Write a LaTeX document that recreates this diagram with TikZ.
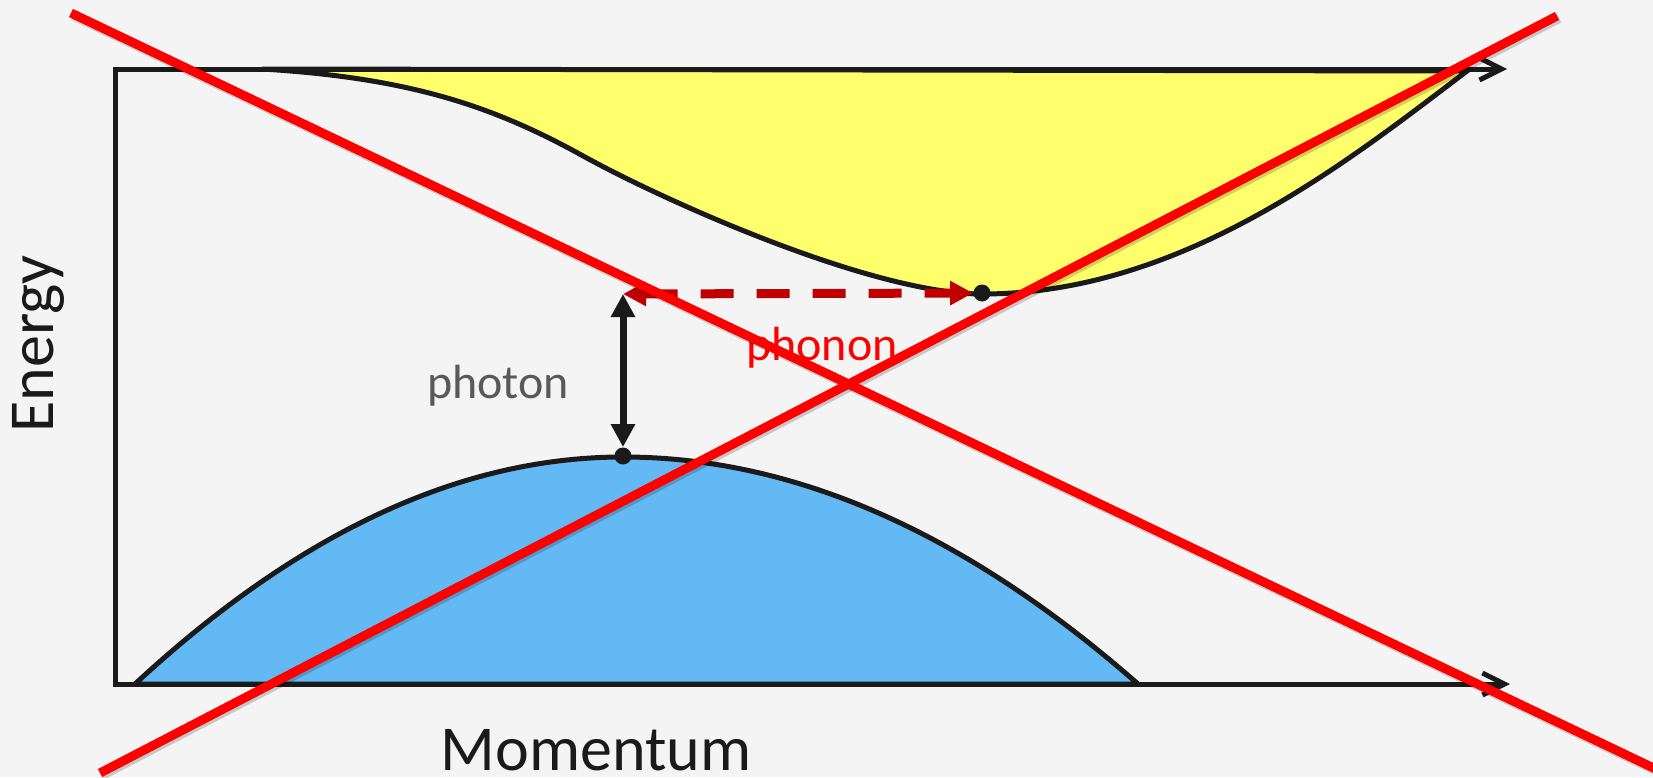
\documentclass[tikz,border=0pt]{standalone}
\usepackage{fontspec}
\setmainfont{Carlito}
\usepackage{xcolor}
\usetikzlibrary{arrows.meta}
\definecolor{bggray}{HTML}{F4F4F4}
\definecolor{bandyellow}{HTML}{FFFF6B}
\definecolor{bandblue}{HTML}{63B9F3}
\definecolor{darkred}{HTML}{C00000}
\definecolor{inkblack}{HTML}{1A1A1A}
\definecolor{labelgray}{HTML}{595959}

\begin{document}
\begin{tikzpicture}[x=0.5pt,y=-0.5pt,
  band/.style={draw=inkblack,line width=2.5pt},
  dot/.style={circle,fill=inkblack,inner sep=0pt,minimum size=8.5pt},
  cross/.style={draw=red,line width=4.5pt},
  crossshadow/.style={draw=black,opacity=0.18,line width=5pt},
  every node/.style={font=\fontsize{24}{28}\selectfont}]
\useasboundingbox[fill=bggray] (0,0) rectangle (1653,777);
% conduction band
\filldraw[band,fill=bandyellow] (262,69) .. controls (412,78) and (495,107) .. (585,157)
  .. controls (665,201) and (872,294) .. (982,294)
  .. controls (1182,294) and (1347,162) .. (1467,71) -- cycle;
% valence band
\filldraw[band,fill=bandblue] (135,684) .. controls (298,533) and (460,457) .. (623,457)
  .. controls (795,457) and (966,533) .. (1138,684) -- cycle;
% axes
\coordinate (corner) at (115,69);
\coordinate (origin) at (115,684);
\coordinate (topend) at (1507,69);
\coordinate (kend) at (1510,684);
\draw[inkblack,line width=2.5pt,line join=miter,
  {Straight Barb[length=11pt,width=11pt]}-{Straight Barb[length=11pt,width=11pt]}]
  (topend) -- (corner) -- (origin) -- (kend);
% transitions
\node[dot] (vbm) at (623,456) {};
\node[dot] (cbm) at (982,293) {};
\coordinate (gaptop) at (623,294);
\draw[inkblack,line width=3.5pt,
  {Triangle[length=11.5pt,width=11.5pt]}-{Triangle[length=11.5pt,width=11.5pt]}] (gaptop) -- (vbm);
\draw[darkred,line width=4.5pt,dash pattern=on 16.5pt off 11.5pt,
  {Triangle[length=11.5pt,width=11.5pt]}-{Triangle[length=11.5pt,width=11.5pt]}] (gaptop) -- (cbm);
\node[text=labelgray,anchor=base] (photonlbl) at (498,398) {photon};
\node[text=red,anchor=base] (phononlbl) at (822,360) {phonon};
% axis labels
\node[rotate=90,anchor=base,inner sep=0pt,text=inkblack,font=\fontsize{32}{36}\selectfont] (energylbl) at (53,344) {Energy};
\node[anchor=base,inner sep=0pt,text depth=0pt,text=inkblack,font=\fontsize{32}{36}\selectfont] (momentumlbl) at (596,770) {Momentum};
% crossed out
\coordinate (xa) at (71,13);
\coordinate (xb) at (1662,772);
\coordinate (xc) at (100,773);
\coordinate (xd) at (1557,16);
\draw[crossshadow] ([shift={(2,2)}]xa) -- ([shift={(2,2)}]xb);
\draw[crossshadow] ([shift={(2,2)}]xc) -- ([shift={(2,2)}]xd);
\draw[cross] (xa) -- (xb);
\draw[cross] (xc) -- (xd);
\end{tikzpicture}
\end{document}
